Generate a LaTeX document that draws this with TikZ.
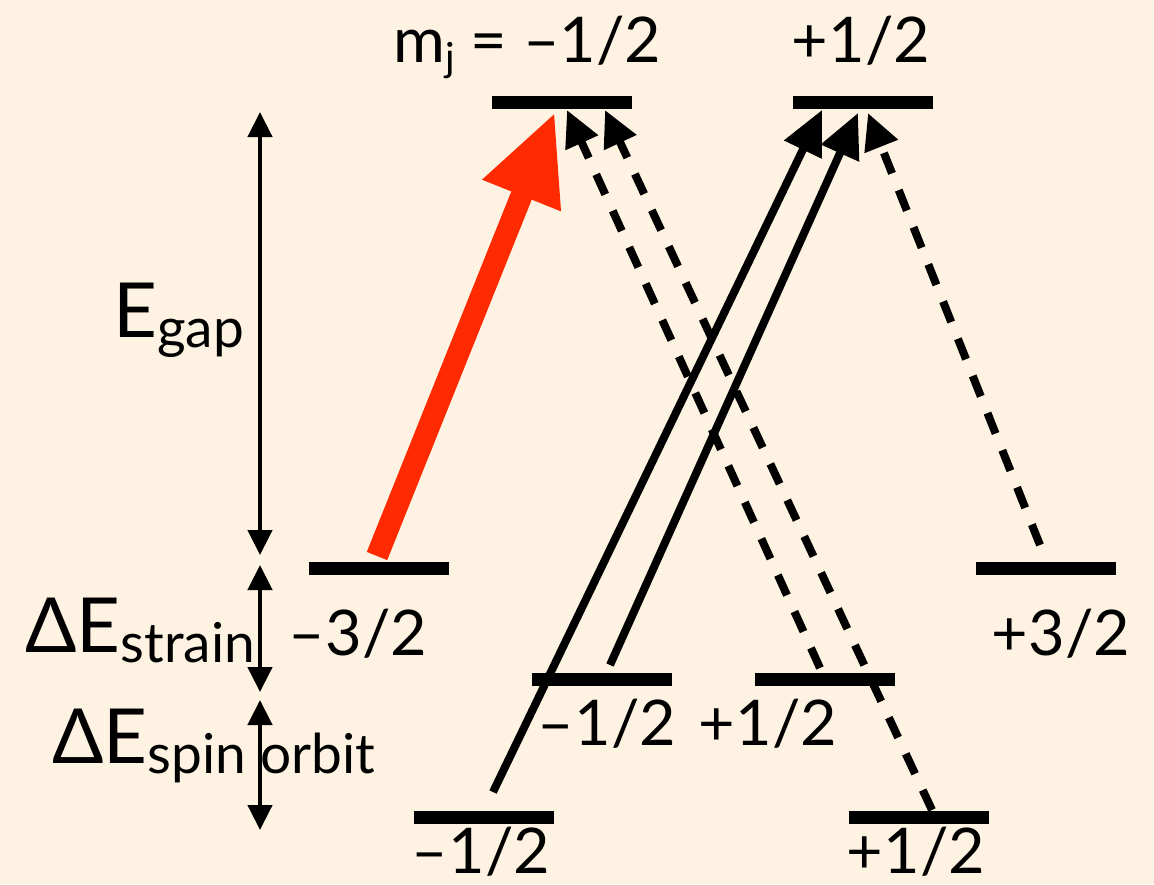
\documentclass[tikz,border=0pt]{standalone}
\usepackage{fontspec}
\setmainfont{Lato}
\usetikzlibrary{arrows.meta}
\definecolor{bg}{HTML}{FEF3E2}
\definecolor{redarrow}{HTML}{FF2A00}
\newcommand{\bigf}{\fontsize{76}{76}\selectfont}
\newcommand{\subf}{\fontsize{55}{55}\selectfont}
\begin{document}
\begin{tikzpicture}[x=1pt,y=-1pt,
  level/.style={fill=black, minimum width=140pt, minimum height=13pt, inner sep=0pt, outer sep=0pt},
  lbl/.style={font=\fontsize{63}{63}\selectfont, anchor=base, inner sep=0pt},
  dimarrow/.style={line width=4.5pt, {Triangle[length=25pt,width=24pt]}-{Triangle[length=25pt,width=24pt]}},
  trans/.style={line width=8pt, -{Triangle[length=44pt,width=40pt]}},
  dtrans/.style={line width=8pt, dash pattern=on 22pt off 18pt, -{Triangle[length=36pt,width=34pt]}},
  redtrans/.style={line width=22pt, color=redarrow, -{Triangle[length=90pt,width=78pt]}}
]
\fill[bg] (0,0) rectangle (1154,884);
\useasboundingbox (0,0) rectangle (1154,884);

% levels
\node[level] (tl) at (561.5,102) {};
\node[level] (tr) at (862.5,102) {};
\node[level] (hhm) at (378.5,568) {};
\node[level] (hhp) at (1045.5,568) {};
\node[level] (lhm) at (602,679) {};
\node[level] (lhp) at (825,679) {};
\node[level] (som) at (484,817) {};
\node[level] (sop) at (919,817) {};

% arrow end points
\coordinate (r0) at (377,556);  \coordinate (r1) at (555,112);
\coordinate (s1a) at (493,792); \coordinate (s1b) at (822,110);
\coordinate (s2a) at (610,665); \coordinate (s2b) at (858,113);
\coordinate (d1a) at (820,668); \coordinate (d1b) at (567,110);
\coordinate (d2a) at (932,810); \coordinate (d2b) at (605,110);
\coordinate (d3a) at (1040,545); \coordinate (d3b) at (868,113);

\draw[trans] (s1a) -- (s1b);
\draw[trans] (s2a) -- (s2b);
\draw[dtrans] (d1a) -- (d1b);
\draw[dtrans] (d2a) -- (d2b);
\draw[dtrans] (d3a) -- (d3b);
\draw[redtrans] (r0) -- (r1);

% energy scale arrows
\coordinate (g0) at (260,112); \coordinate (g1) at (260,555);
\coordinate (st0) at (260,565); \coordinate (st1) at (260,692);
\coordinate (so0) at (260,700); \coordinate (so1) at (260,830);
\draw[dimarrow] (g0) -- (g1);
\draw[dimarrow] (st0) -- (st1);
\draw[dimarrow] (so0) -- (so1);

% labels
\node[lbl, anchor=base west] (mjlabel) at (393,62) {m\raisebox{-9pt}{\fontsize{40}{40}\selectfont j} = –1/2};
\node[lbl] (tplabel) at (861,62) {+1/2};
\node[lbl] (l3m) at (358,655) {–3/2};
\node[lbl] (l3p) at (1061,655) {+3/2};
\node[lbl] (l1m) at (607,745) {–1/2};
\node[lbl] (l1p) at (768,745) {+1/2};
\node[lbl] (b1m) at (481,873) {–1/2};
\node[lbl] (b1p) at (916,873) {+1/2};

\node[anchor=base west, inner sep=0pt] (egap) at (113,337) {\bigf E\raisebox{-10pt}{\subf gap}};
\node[anchor=base west, inner sep=0pt] (estrain) at (25,652) {\bigf ΔE\raisebox{-10pt}{\subf strain}};
\node[anchor=base west, inner sep=0pt] (eso) at (52,763) {\bigf ΔE\raisebox{-10pt}{\subf spin orbit}};
\end{tikzpicture}
\end{document}
